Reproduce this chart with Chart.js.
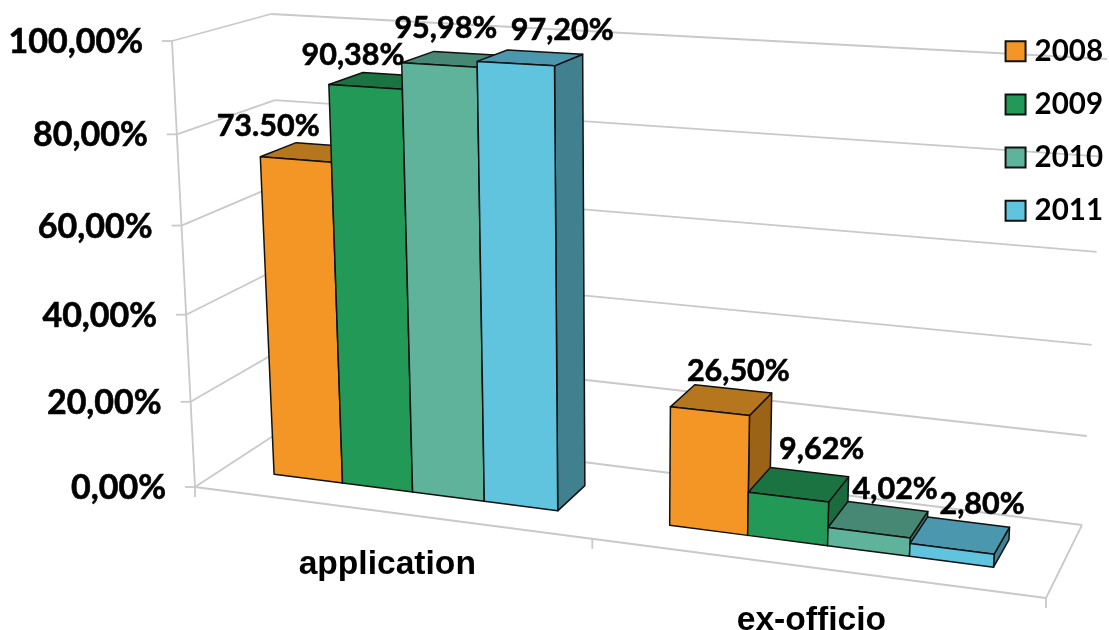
<!DOCTYPE html>
<html>
<head>
<meta charset="utf-8">
<style>html,body{margin:0;padding:0;background:#fff}canvas{display:block}</style>
<script src="https://cdn.jsdelivr.net/npm/chart.js@4"></script>
</head>
<body>
<canvas id="c" width="1109" height="630"></canvas>
<script>
const categories = ['application', 'ex-officio'];
const seriesNames = ['2008', '2009', '2010', '2011'];
const values2008 = [73.5, 26.5];
const values2009 = [90.38, 9.62];
const values2010 = [95.98, 4.02];
const values2011 = [97.2, 2.8];
const labels2008 = ['73.50%', '26,50%'];
const labels2009 = ['90,38%', '9,62%'];
const labels2010 = ['95,98%', '4,02%'];
const labels2011 = ['97,20%', '2,80%'];
const yTicks = [0, 20, 40, 60, 80, 100];
const yTickLabels = ['0,00%', '20,00%', '40,00%', '60,00%', '80,00%', '100,00%'];

const frontColors = ['#F39626', '#239957', '#5FB39A', '#61C4DE'];
const topColors = ['#B5761E', '#1B7342', '#478874', '#4A97AE'];
const sideColors = ['#9A6316', '#1A6B3E', '#3F7A68', '#40808F'];
const seriesLabels = [labels2008, labels2009, labels2010, labels2011];
// label placement relative to the projected middle of each bar top: [dx, dy]
const labelShift = [
  [[-45, -26], [17, -29]],
  [[-29, -26], [23, -35]],
  [[-9, -31], [17, -30]],
  [[32, -28], [22, -31]]
];

// projected box corners: c[u][v][d]
const C = {
  '000': [195, 487], '100': [1046, 598], '001': [290, 425], '101': [1082, 525],
  '010': [172, 41], '110': [1070, 92], '011': [271, 14], '111': [1107, 59]
};
const warp = (t, r) => t / (t + (1 - t) * r);
const RU = 1.142, RV = 1.059, D0 = 0.31, D1 = 0.69;
function proj(u, v, d) {
  const a = warp(u, RU), b = warp(v, RV), out = [0, 0];
  for (const i of [0, 1]) for (const j of [0, 1]) for (const k of [0, 1]) {
    const w = (i ? a : 1 - a) * (j ? b : 1 - b) * (k ? d : 1 - d);
    const p = C['' + i + j + k];
    out[0] += w * p[0]; out[1] += w * p[1];
  }
  return out;
}
function poly(ctx, pts, fill) {
  ctx.beginPath();
  pts.forEach((p, i) => i ? ctx.lineTo(p[0], p[1]) : ctx.moveTo(p[0], p[1]));
  ctx.closePath();
  ctx.fillStyle = fill; ctx.fill(); ctx.stroke();
}
function seg(ctx, a, b) {
  ctx.beginPath(); ctx.moveTo(a[0], a[1]); ctx.lineTo(b[0], b[1]); ctx.stroke();
}
function heavyText(ctx, s, x, y) {
  ctx.fillText(s, x, y);
  ctx.strokeText(s, x, y);
}
const toV = (chart, py) => (chart.chartArea.bottom - py) / chart.chartArea.height;
const toU = (chart, px) => (px - chart.chartArea.left) / chart.chartArea.width;

const box3d = {
  id: 'box3d',
  beforeDraw(chart) {
    const ctx = chart.ctx, y = chart.scales.y, x = chart.scales.x;
    ctx.save();
    ctx.strokeStyle = '#c9c9c9'; ctx.lineWidth = 1.8;
    seg(ctx, proj(0, 1, 0), proj(0, 0, 0));
    seg(ctx, proj(0, 0, 0), proj(1, 0, 0));
    seg(ctx, proj(1, 0, 0), proj(1, 0, 1));
    yTicks.forEach(t => {
      const v = toV(chart, y.getPixelForValue(t));
      const a = proj(0, v, 0);
      seg(ctx, [a[0] - 10, a[1]], a);
      seg(ctx, a, proj(0, v, 1));
      seg(ctx, proj(0, v, 1), proj(1, v, 1));
    });
    [0, 0.5, 1].forEach(u => {
      const a = proj(u, 0, 0);
      seg(ctx, a, [a[0], a[1] + 10]);
    });
    ctx.fillStyle = '#000'; ctx.strokeStyle = '#000'; ctx.lineWidth = 0.6;
    ctx.font = 'bold 34px Lato';
    ctx.textAlign = 'right'; ctx.textBaseline = 'middle';
    yTicks.forEach((t, i) => {
      const a = proj(0, toV(chart, y.getPixelForValue(t)), 0);
      heavyText(ctx, yTickLabels[i], a[0] - 29, a[1] + 1);
    });
    ctx.font = 'bold 33.6px "Liberation Sans"';
    ctx.textAlign = 'center';
    categories.forEach((c, i) => {
      const a = proj(toU(chart, x.getPixelForValue(i)), 0, 0);
      ctx.fillText(c, a[0], a[1] + 53);
    });
    ctx.restore();
  },
  beforeDatasetsDraw(chart) {
    const ctx = chart.ctx;
    ctx.save();
    ctx.strokeStyle = '#111'; ctx.lineWidth = 1.5; ctx.lineJoin = 'round';
    chart.data.datasets.forEach((ds, s) => {
      chart.getDatasetMeta(s).data.forEach(el => {
        const u0 = toU(chart, el.x - el.width / 2), u1 = toU(chart, el.x + el.width / 2);
        const v0 = toV(chart, el.base), v1 = toV(chart, el.y);
        poly(ctx, [proj(u1, v0, D0), proj(u1, v0, D1), proj(u1, v1, D1), proj(u1, v1, D0)], sideColors[s]);
        poly(ctx, [proj(u0, v1, D0), proj(u1, v1, D0), proj(u1, v1, D1), proj(u0, v1, D1)], topColors[s]);
        poly(ctx, [proj(u0, v0, D0), proj(u1, v0, D0), proj(u1, v1, D0), proj(u0, v1, D0)], frontColors[s]);
      });
    });
    ctx.fillStyle = '#000'; ctx.strokeStyle = '#000'; ctx.lineWidth = 0.6;
    ctx.font = 'bold 30.5px Lato';
    ctx.textAlign = 'center'; ctx.textBaseline = 'middle';
    chart.data.datasets.forEach((ds, s) => {
      chart.getDatasetMeta(s).data.forEach((el, i) => {
        const p = proj(toU(chart, el.x), toV(chart, el.y), 0.5);
        heavyText(ctx, seriesLabels[s][i], p[0] + labelShift[s][i][0], p[1] + labelShift[s][i][1]);
      });
    });
    ctx.restore();
    return false;
  }
};

const allValues = [values2008, values2009, values2010, values2011];
new Chart(document.getElementById('c'), {
  type: 'bar',
  plugins: [box3d],
  data: {
    labels: categories,
    datasets: seriesNames.map((n, s) => ({
      label: n,
      data: allValues[s],
      backgroundColor: frontColors[s],
      borderColor: '#111',
      borderWidth: 2,
      categoryPercentage: 0.73,
      barPercentage: 1
    }))
  },
  options: {
    responsive: false,
    animation: false,
    layout: { padding: { top: 13, right: -4 } },
    scales: {
      x: { display: false },
      y: { display: false, min: 0, max: 100 }
    },
    plugins: {
      tooltip: { enabled: false },
      legend: {
        position: 'right',
        align: 'start',
        labels: {
          usePointStyle: true, pointStyle: 'rect',
          boxWidth: 8.5, boxHeight: 20, padding: 23.6,
          color: '#000',
          font: { family: 'Lato', weight: 'bold', size: 29.5 }
        }
      }
    }
  }
});
</script>
</body>
</html>
